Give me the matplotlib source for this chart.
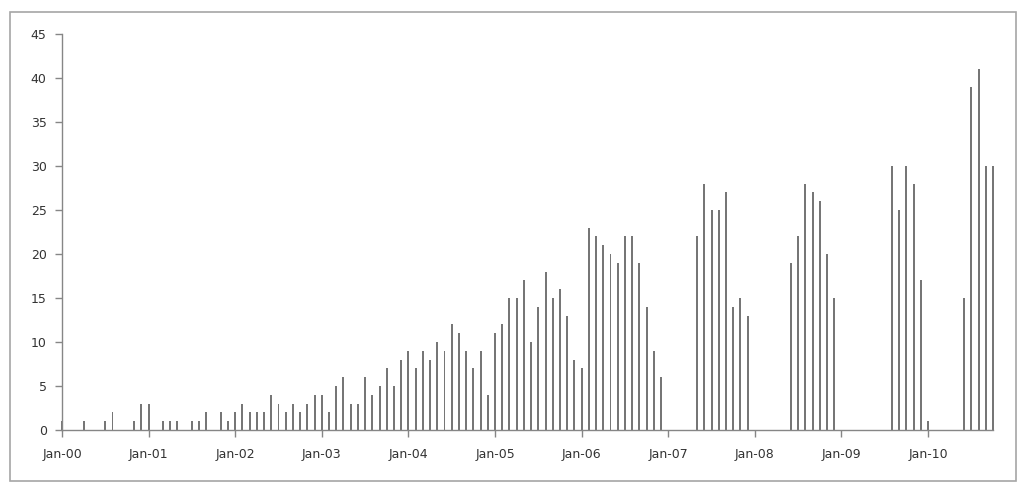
import numpy as np
import matplotlib.pyplot as plt
from matplotlib.patches import Rectangle

# monthly counts, Jan-2000 .. Oct-2010
y2000 = [1, 0, 0, 1, 0, 0, 1, 2, 0, 0, 1, 3]
y2001 = [3, 0, 1, 1, 1, 0, 1, 1, 2, 0, 2, 1]
y2002 = [2, 3, 2, 2, 2, 4, 3, 2, 3, 2, 3, 4]
y2003 = [4, 2, 5, 6, 3, 3, 6, 4, 5, 7, 5, 8]
y2004 = [9, 7, 9, 8, 10, 9, 12, 11, 9, 7, 9, 4]
y2005 = [11, 12, 15, 15, 17, 10, 14, 18, 15, 16, 13, 8]
y2006 = [7, 23, 22, 21, 20, 19, 22, 22, 19, 14, 9, 6]
y2007 = [0, 0, 0, 0, 22, 28, 25, 25, 27, 14, 15, 13]
y2008 = [0, 0, 0, 0, 0, 19, 22, 28, 27, 26, 20, 15]
y2009 = [0, 0, 0, 0, 0, 0, 0, 30, 25, 30, 28, 17]
y2010 = [1, 0, 0, 0, 0, 15, 39, 41, 30, 30]
year_labels = ['Jan-00', 'Jan-01', 'Jan-02', 'Jan-03', 'Jan-04', 'Jan-05',
               'Jan-06', 'Jan-07', 'Jan-08', 'Jan-09', 'Jan-10']

values = np.array(y2000 + y2001 + y2002 + y2003 + y2004 + y2005 +
                  y2006 + y2007 + y2008 + y2009 + y2010)
months = np.arange(len(values))

fig = plt.figure(figsize=(10.24, 4.97), dpi=100)
fig.patches.append(Rectangle((10 / 1024, 1 - 481 / 497), 1006 / 1024, 469.5 / 497,
                             transform=fig.transFigure, fill=False,
                             edgecolor='#a6a6a6', linewidth=1.2))
ax = fig.add_axes([62 / 1024, 67 / 497, 931 / 1024, 396 / 497])

bars = ax.bar(months, values, width=0.27, color='#767676', linewidth=0)
for b in bars:
    b.set_clip_on(False)

ax.set_xlim(0, len(values) - 1)
ax.set_ylim(0, 45)
ax.set_yticks(np.arange(0, 46, 5))
ax.set_xticks(np.arange(0, len(values), 12))
ax.set_xticklabels(year_labels)

for s in ['top', 'right']:
    ax.spines[s].set_visible(False)
for s in ['left', 'bottom']:
    ax.spines[s].set_color('#868686')
    ax.spines[s].set_linewidth(1.0)
ax.tick_params(axis='both', colors='#868686', length=5, width=1.0,
               labelcolor='#333333', labelsize=9)
ax.tick_params(axis='x', pad=8)
ax.tick_params(axis='y', pad=6)

fig.savefig('out.png', dpi=100)
